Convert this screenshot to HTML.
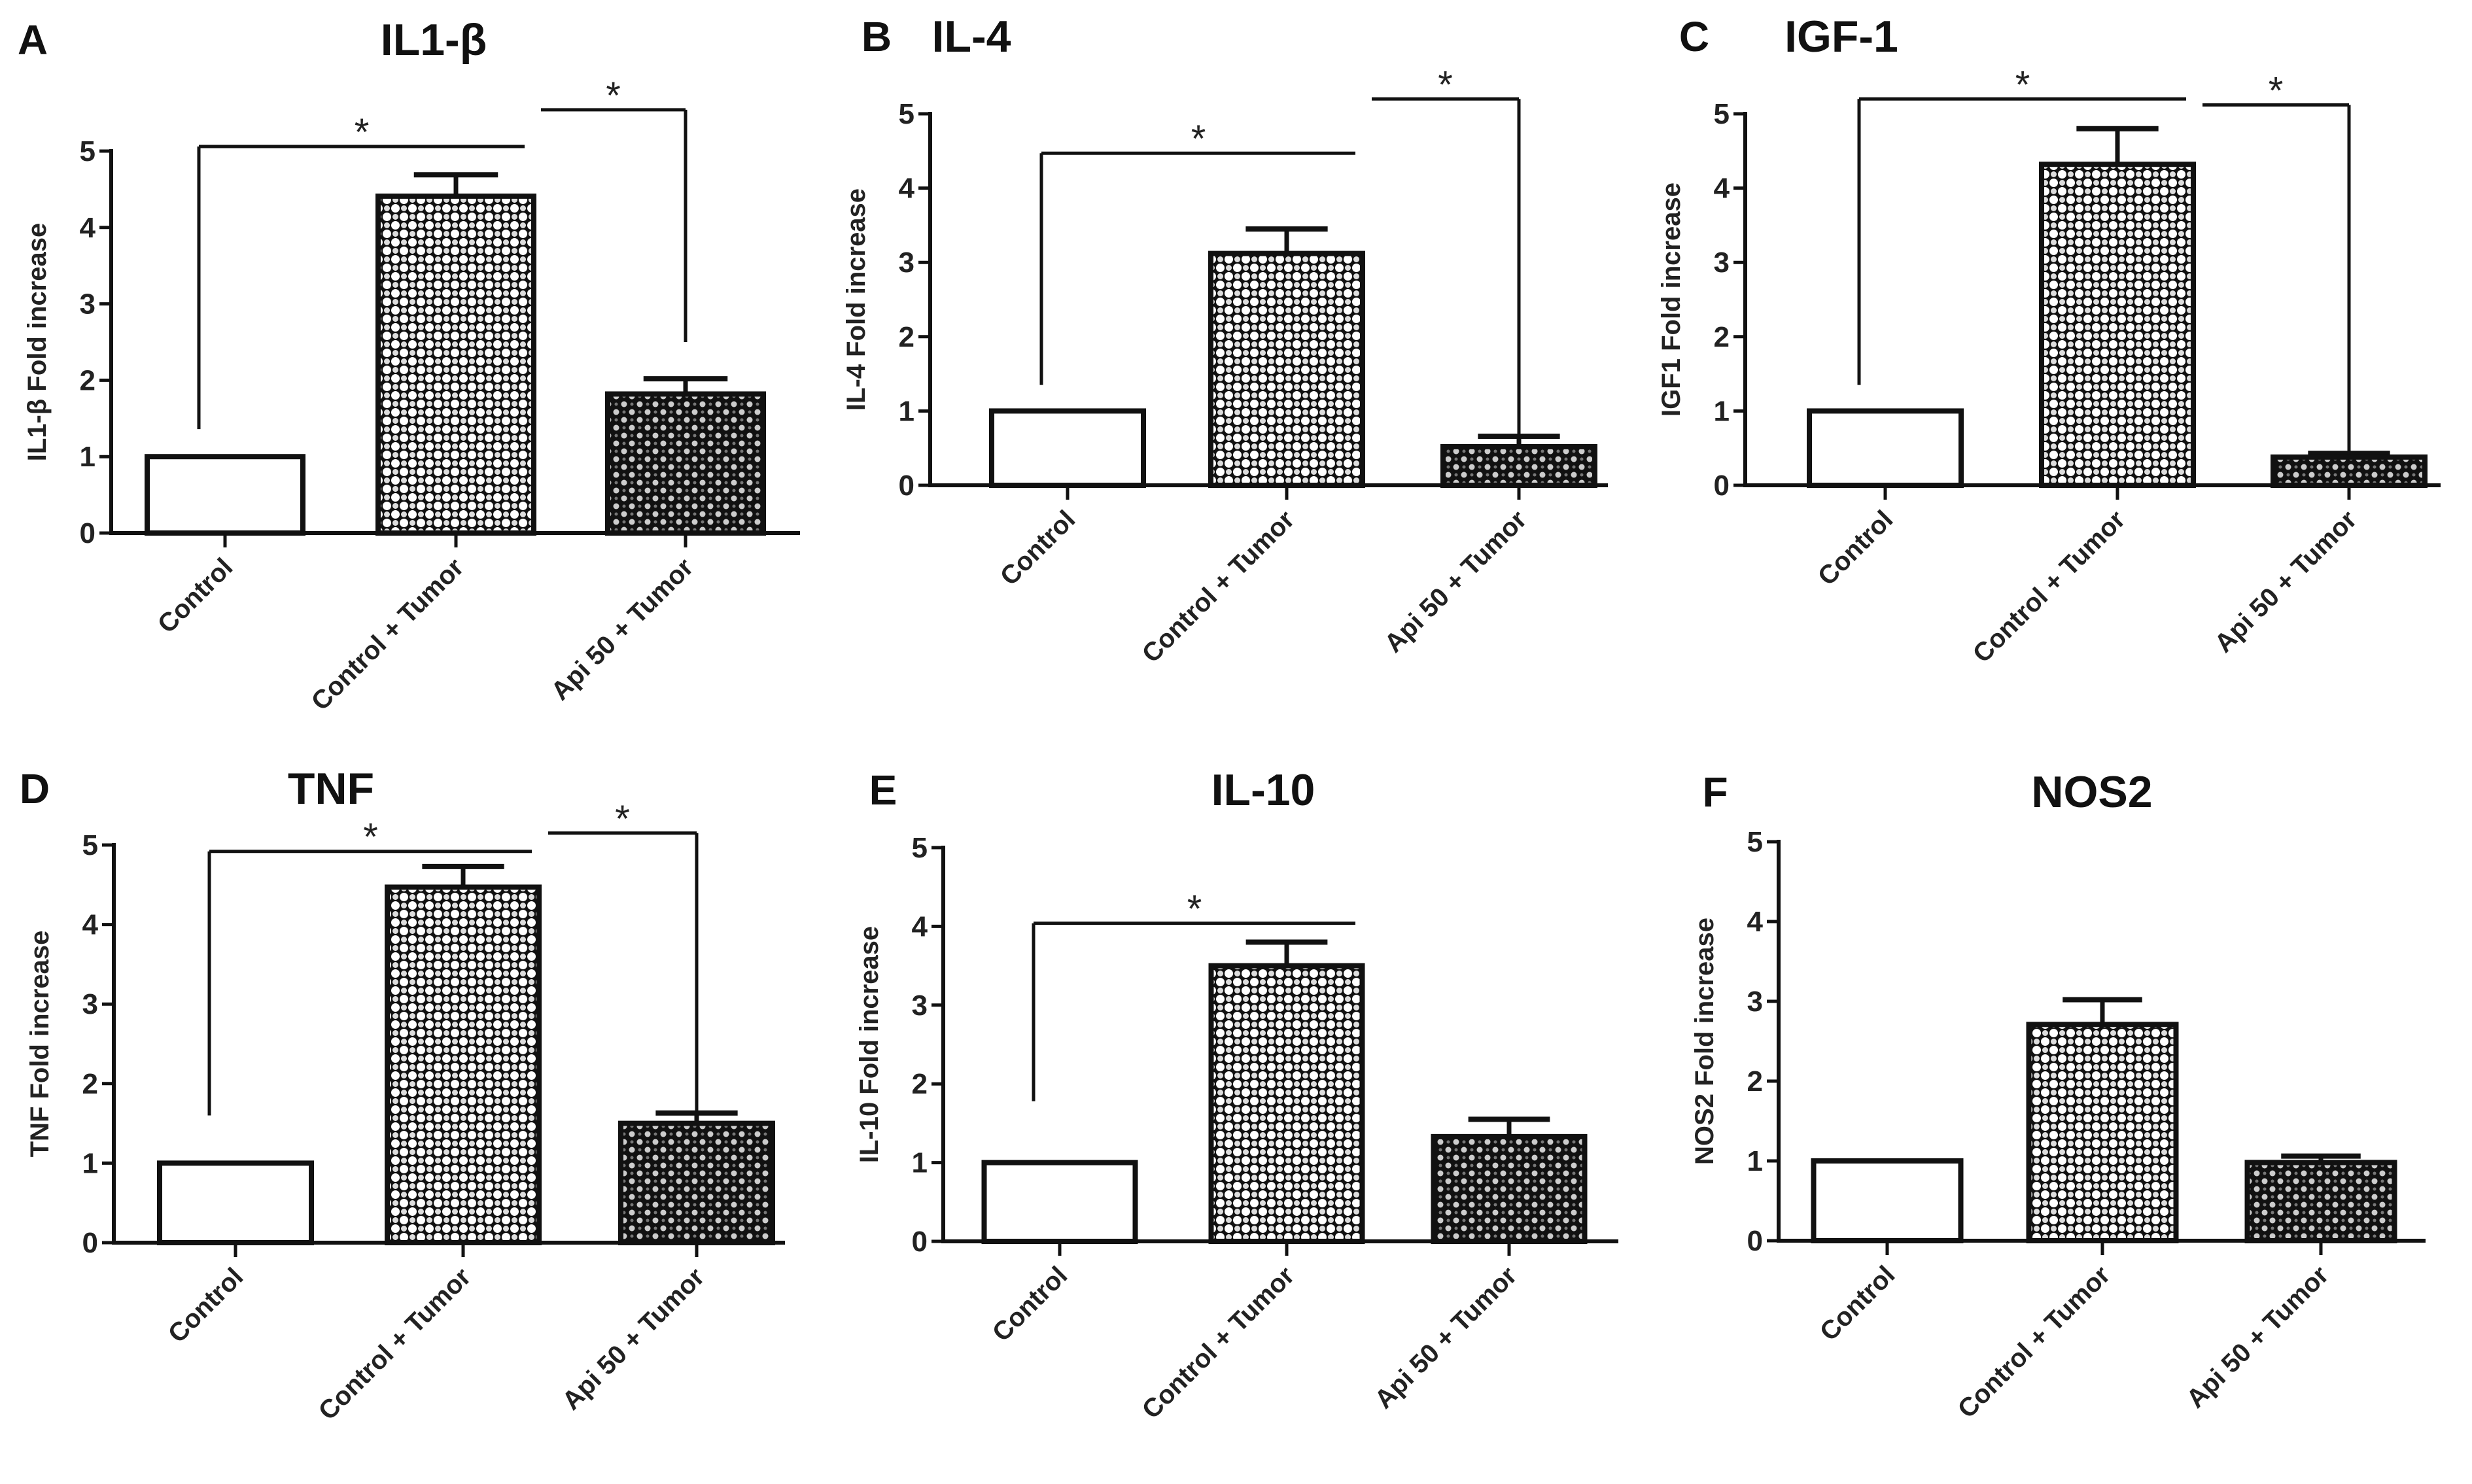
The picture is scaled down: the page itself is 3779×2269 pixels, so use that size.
<!DOCTYPE html>
<html><head><meta charset="utf-8"><style>
html,body{margin:0;padding:0;background:#fff;}
svg{display:block;font-family:"Liberation Sans",Arial,sans-serif;}
</style></head><body>
<svg id="fig" width="3779" height="2269" viewBox="0 0 3779 2269" xmlns="http://www.w3.org/2000/svg">
<defs>
<pattern id="patLight" patternUnits="userSpaceOnUse" width="26" height="26">
<rect width="26" height="26" fill="#111"/>
<circle cx="6.5" cy="6.5" r="6.5" fill="#fff"/><circle cx="19.5" cy="19.5" r="6.5" fill="#fff"/>
<circle cx="19.5" cy="6.5" r="4.5" fill="#ddd"/><circle cx="6.5" cy="19.5" r="4.5" fill="#ddd"/>
</pattern>
<pattern id="patDark" patternUnits="userSpaceOnUse" width="24" height="24">
<rect width="24" height="24" fill="#111"/>
<circle cx="6" cy="6" r="4.5" fill="#ccc"/><circle cx="18" cy="18" r="4.5" fill="#ccc"/>
<circle cx="18" cy="6" r="2.5" fill="#777"/><circle cx="6" cy="18" r="2.5" fill="#777"/>
</pattern>
</defs>
</svg>
<script>
// ---- data ----
const categories = ["Control", "Control + Tumor", "Api 50 + Tumor"];
const panelLetters = ["A","B","C","D","E","F"];
const panelTitles = ["IL1-β","IL-4","IGF-1","TNF","IL-10","NOS2"];
const yAxisTitles = ["IL1-β Fold increase","IL-4 Fold increase","IGF1 Fold increase","TNF Fold increase","IL-10 Fold increase","NOS2 Fold increase"];
const yTicks = [0,1,2,3,4,5];
const meansA = [1, 4.41, 1.82];
const errsA  = [0, 0.28, 0.20];
const meansB = [1, 3.12, 0.52];
const errsB  = [0, 0.33, 0.14];
const meansC = [1, 4.32, 0.38];
const errsC  = [0, 0.48, 0.05];
const meansD = [1, 4.47, 1.50];
const errsD  = [0, 0.26, 0.13];
const meansE = [1, 3.50, 1.33];
const errsE  = [0, 0.30, 0.22];
const meansF = [1, 2.71, 0.98];
const errsF  = [0, 0.31, 0.08];
const allMeans = [meansA,meansB,meansC,meansD,meansE,meansF];
const allErrs = [errsA,errsB,errsC,errsD,errsE,errsF];
// significance brackets: [panel, fromBar, toBar, levelValue, dropSide, dropToValue]
const sigBrackets = [
 [0,0,1,5.06,"left",1.36],[0,1,2,5.54,"right",2.5],
 [1,0,1,4.47,"left",1.35],[1,1,2,5.2,"right",0.65],
 [2,0,1,5.2,"left",1.35],[2,1,2,5.12,"right",0.45],
 [3,0,1,4.92,"left",1.6],[3,1,2,5.15,"right",1.65],
 [4,0,1,4.04,"left",1.78]
];

// ---- layout (pixels) ----
const layout = [
 {ax:170, axEnd:1223, y5:231, y0:815, centers:[344,697,1048], bw:238, tx:663, ty:60, lx:50},
 {ax:1422, axEnd:2458, y5:174, y0:742, centers:[1632,1967,2322], bw:232, tx:1485, ty:55, lx:1340},
 {ax:2668, axEnd:3731, y5:174, y0:742, centers:[2882,3237,3591], bw:232, tx:2815, ty:55, lx:2590},
 {ax:174, axEnd:1200, y5:1292, y0:1900, centers:[360,708,1065], bw:232, tx:506, ty:1205, lx:53},
 {ax:1442, axEnd:2474, y5:1296, y0:1898, centers:[1620,1967,2307], bw:231, tx:1931, ty:1207, lx:1350},
 {ax:2719, axEnd:3708, y5:1287, y0:1897, centers:[2885,3214,3548], bw:225, tx:3198, ty:1210, lx:2622}
];
const fills = ["#fff","url(#patLight)","url(#patDark)"];

const NS = "http://www.w3.org/2000/svg";
const svg = document.getElementById("fig");
function mk(tag, attrs, parent){
  const e = document.createElementNS(NS, tag);
  for (const k in attrs) e.setAttribute(k, attrs[k]);
  (parent||svg).appendChild(e);
  return e;
}
function line(x1,y1,x2,y2,w,parent){
  return mk("line",{x1:x1,y1:y1,x2:x2,y2:y2,stroke:"#111","stroke-width":w},parent);
}

layout.forEach((L, p) => {
  const g = mk("g",{});
  
  
  const yS = v => L.y0 - v * (L.y0 - L.y5) / 5;

  const letter = mk("text",{x:L.lx, y:L.ty+23, "font-size":64, "font-weight":"bold", "text-anchor":"middle", fill:"#111"}, g);
  letter.textContent = panelLetters[p];
  
  

  const title = mk("text",{x:L.tx, y:L.ty+24, "font-size":68, "font-weight":"bold", "text-anchor":"middle", fill:"#111"}, g);
  title.textContent = panelTitles[p];
  
  

  // bars
  allMeans[p].forEach((v, i) => {
    const c = L.centers[i];
    const e = allErrs[p][i];
    if (e > 0) {
      const ey = yS(v + e);
      const ew = line(c, yS(v), c, ey, 7, g);
      
      
      const cap = line(c - L.bw*0.27, ey, c + L.bw*0.27, ey, 8, g);
      
      
    }
    const r = mk("rect",{x:c - L.bw/2, y:yS(v), width:L.bw, height:L.y0 - yS(v), fill:fills[i], stroke:"#111", "stroke-width":8}, g);
    
    
  });

  // axes
  const ya = line(L.ax, L.y5 - 3, L.ax, L.y0 + 3, 6, g);
  
  
  const xa = line(L.ax - 3, L.y0, L.axEnd, L.y0, 6, g);
  
  

  yTicks.forEach(t => {
    const y = yS(t);
    const tk = line(L.ax - 18, y, L.ax, y, 5, g);
    
    
    const tl = mk("text",{x:L.ax - 24, y:y + 15, "font-size":44, "font-weight":"bold", "text-anchor":"end", fill:"#222"}, g);
    tl.textContent = t;
    
    
  });

  const yt = mk("text",{x:0, y:0, "font-size":40, "font-weight":"bold", "text-anchor":"middle", fill:"#222",
    transform:"translate(" + (L.ax - 100) + "," + ((L.y5 + L.y0)/2) + ") rotate(-90)"}, g);
  yt.textContent = yAxisTitles[p];
  
  

  categories.forEach((cat, i) => {
    const c = L.centers[i];
    const tk = line(c, L.y0, c, L.y0 + 22, 5, g);
    
    
    const tl = mk("text",{x:0, y:0, "font-size":40, "font-weight":"bold", "text-anchor":"end", fill:"#222",
      transform:"translate(" + (c + 14) + "," + (L.y0 + 55) + ") rotate(-45)"}, g);
    tl.textContent = cat;
    
    
  });

  sigBrackets.filter(b => b[0] === p).forEach(b => {
    const from = L.centers[b[1]], to = L.centers[b[2]];
    const yl = yS(b[3]);
    let x1, x2;
    if (b[4] === "left") { x1 = from - 40; x2 = to + 105; }
    else { x1 = from + 130; x2 = to; }
    const bg = mk("g",{}, g);
    
    
    line(x1, yl, x2, yl, 5, bg);
    if (b[4] === "left") line(x1, yl, x1, yS(b[5]), 5, bg);
    else line(x2, yl, x2, yS(b[5]), 5, bg);
    const st = mk("text",{x:(x1 + x2)/2, y:yl - 2, "font-size":58, "text-anchor":"middle", fill:"#222"}, bg);
    st.textContent = "*";
    
    
  });
});
</script>
</body></html>
